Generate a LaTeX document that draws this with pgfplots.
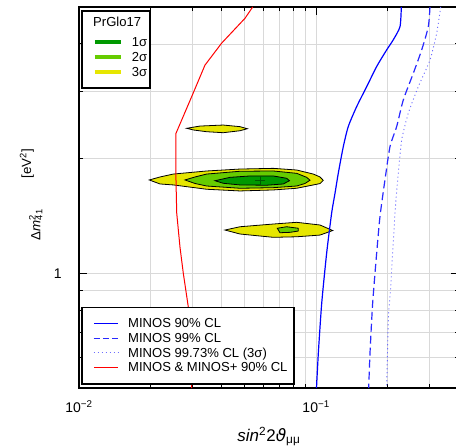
\documentclass[border=0pt]{standalone}
\usepackage{fontspec}
\setmainfont{Liberation Sans}
\newfontfamily\dvs{DejaVu Sans}
\usepackage{pgfplots}
\pgfplotsset{compat=1.18}
\definecolor{cone}{RGB}{0,153,0}
\definecolor{ctwo}{RGB}{102,204,0}
\definecolor{cthree}{RGB}{230,230,0}
\definecolor{gridc}{RGB}{217,217,217}
\definecolor{bdash}{RGB}{40,40,255}
\definecolor{bdot}{RGB}{110,110,255}
\begin{document}
\begin{tikzpicture}
\begin{axis}[
  at={(0,0)}, anchor=south west,
  scale only axis, width=285pt, height=285.75pt,
  xmode=log, ymode=log,
  xmin=0.01, xmax=0.4, ymin=0.5, ymax=5,
  font=\fontsize{10.5}{12.5}\selectfont,
  xtick={0.01,0.1}, xticklabels={10\textsuperscript{−2},10\textsuperscript{−1}},
  ytick={1}, yticklabels={1},
  minor xtick={0.02,0.03,0.04,0.05,0.06,0.07,0.08,0.09,0.2,0.3,0.4},
  minor ytick={0.6,0.7,0.8,0.9,2,3,4},
  grid=both,
  major grid style={line width=0.6pt,color=gridc},
  minor grid style={line width=0.6pt,color=gridc},
  tick style={black, line width=0.8pt},
  major tick length=6pt, minor tick length=3pt,
  axis line style={line width=0.9pt},
  xticklabel style={yshift=-6pt},
  yticklabel style={xshift=-9.5pt},
  xlabel={\textit{sin}\textsuperscript{2}2{\dvs\itshape ϑ}\textsubscript{μμ}},
  ylabel={Δ\textit{m}\rlap{\textsuperscript{2}}\textsubscript{41}\hspace{2.3em}\raisebox{7pt}{[eV\textsuperscript{2}]}},
  xlabel style={at={(axis description cs:0.5,-0.128)},anchor=center,font=\fontsize{12.7}{14}\selectfont},
  ylabel style={at={(axis description cs:-0.126,0.508)},anchor=center,font=\fontsize{10}{12}\selectfont},
]
% 3 sigma big
\addplot[forget plot, fill=cthree, draw=black, line width=0.6pt] coordinates {
(0.01979,1.758) (0.02195,1.790) (0.02498,1.822) (0.03454,1.856) (0.04773,1.878)
(0.06595,1.886) (0.08276,1.867) (0.09723,1.822) (0.1038,1.790) (0.1071,1.754)
(0.1038,1.720) (0.09723,1.706) (0.08276,1.672) (0.06595,1.655) (0.04773,1.645)
(0.03454,1.662) (0.02498,1.706) (0.02195,1.716)} -- cycle;
% 2 sigma big
\addplot[forget plot, fill=ctwo, draw=black, line width=0.6pt] coordinates {
(0.02798,1.758) (0.03083,1.790) (0.03454,1.822) (0.04773,1.853) (0.06595,1.856)
(0.08276,1.830) (0.0912,1.786) (0.09417,1.755) (0.0897,1.721) (0.08276,1.695)
(0.06595,1.678) (0.04773,1.672) (0.03454,1.695) (0.03083,1.721)} -- cycle;
% 1 sigma
\addplot[forget plot, fill=cone, draw=black, line width=0.6pt] coordinates {
(0.03744,1.750) (0.0433,1.786) (0.05258,1.801) (0.06595,1.801) (0.07509,1.776)
(0.07718,1.750) (0.07265,1.716) (0.06184,1.703) (0.04773,1.706) (0.04058,1.723)} -- cycle;
% upper small 3 sigma
\addplot[forget plot, fill=cthree, draw=black, line width=0.6pt] coordinates {
(0.02845,2.402) (0.03237,2.435) (0.04058,2.450) (0.04773,2.426) (0.05123,2.396)
(0.04773,2.367) (0.04058,2.339) (0.03454,2.353) (0.03033,2.378)} -- cycle;
% lower 3 sigma
\addplot[forget plot, fill=cthree, draw=black, line width=0.6pt] coordinates {
(0.04126,1.299) (0.04773,1.325) (0.06595,1.347) (0.08276,1.361) (0.10377,1.339)
(0.1174,1.295) (0.10377,1.260) (0.08276,1.247) (0.06595,1.243) (0.04773,1.268)} -- cycle;
% lower 2 sigma blob
\addplot[forget plot, fill=ctwo, draw=black, line width=0.6pt] coordinates {
(0.06855,1.313) (0.07509,1.325) (0.08405,1.313) (0.08405,1.291) (0.07755,1.281)
(0.07037,1.278)} -- cycle;
% best fit
\addplot[forget plot, only marks, mark=+, mark size=3.4pt, color=green!35!black, line width=0.6pt]
coordinates {(0.05796,1.750)};
% MINOS 90
\addplot[forget plot, draw=blue, line width=0.9pt, smooth, tension=0.4] coordinates {
(0.2285,5.0) (0.2256,4.44) (0.2113,4.10) (0.1983,3.86) (0.1799,3.49) (0.1633,3.09)
(0.1482,2.74) (0.1366,2.43) (0.1301,2.15) (0.1239,1.83) (0.1200,1.62) (0.1162,1.44)
(0.1107,1.13) (0.1055,0.834) (0.1021,0.617) (0.1003,0.5)};
% MINOS 99
\addplot[forget plot, draw=bdash, line width=0.9pt, dash pattern=on 6pt off 3pt, smooth, tension=0.4] coordinates {
(0.3018,5.0) (0.2969,4.44) (0.2785,3.86) (0.2567,3.35) (0.2329,2.85) (0.2185,2.43)
(0.2047,2.15) (0.1950,1.76) (0.1858,1.41) (0.1799,1.13) (0.1730,0.834) (0.1686,0.617)
(0.1665,0.5)};
% MINOS 99.73
\addplot[forget plot, draw=bdot, line width=0.7pt, dash pattern=on 0.8pt off 2.2pt, smooth, tension=0.4] coordinates {
(0.3349,5.0) (0.3221,4.27) (0.3018,3.63) (0.2695,3.09) (0.2445,2.63) (0.2294,2.24)
(0.2219,1.83) (0.2149,1.44) (0.2061,0.922) (0.2014,0.754) (0.1983,0.5)};
% MINOS & MINOS+
\addplot[forget plot, draw=red, line width=0.75pt] coordinates {
(0.05398,5.0) (0.0501,4.67) (0.03996,4.02) (0.03398,3.52) (0.02987,2.91) (0.02564,2.33)
(0.02564,1.76) (0.02582,1.44) (0.02666,1.17) (0.02753,1.0) (0.02889,0.817) (0.02987,0.5)};
\end{axis}
% MINOS legend
\begin{axis}[
  at={(0,0)}, anchor=south west,
  scale only axis, width=285pt, height=285.75pt,
  xmode=log, ymode=log,
  xmin=0.01, xmax=0.4, ymin=0.5, ymax=5,
  hide axis,
  legend cell align=left,
  legend image code/.code={\draw[#1] (0pt,0pt) -- (18.5pt,0pt);},
  legend style={at={(axis description cs:0.0079,0.0105)}, anchor=south west,
    draw=none, fill=none,
    font=\fontsize{9.8}{11.8}\selectfont,
    inner xsep=8pt, inner ysep=7.7pt, row sep=2pt, column sep=7pt,
    nodes={inner sep=0pt, text height=7.8pt, text depth=1.2pt}},
]
\draw[black, line width=0.8pt, fill=white] (axis description cs:0.0079,0.0105) rectangle (axis description cs:0.5658,0.2118);
\addlegendimage{legend image code/.code={\fill[blue, draw=none] (0pt,-0.5pt) rectangle (18.5pt,0.5pt);}}
\addlegendentry{MINOS 90\% CL}
\addlegendimage{draw=bdash, line width=0.9pt, dash pattern=on 4.5pt off 2.5pt}
\addlegendentry{MINOS 99\% CL}
\addlegendimage{draw=bdot, line width=0.7pt, dash pattern=on 0.8pt off 2.2pt}
\addlegendentry{MINOS 99.73\% CL (3σ)}
\addlegendimage{legend image code/.code={\fill[red, draw=none] (0pt,-0.42pt) rectangle (18.5pt,0.42pt);}}
\addlegendentry{MINOS \& MINOS+ 90\% CL}
\end{axis}
% PrGlo17 legend
\begin{axis}[
  at={(0,0)}, anchor=south west,
  scale only axis, width=285pt, height=285.75pt,
  xmode=log, ymode=log,
  xmin=0.01, xmax=0.4, ymin=0.5, ymax=5,
  hide axis,
  legend cell align=left,
  legend image code/.code={\draw[#1] (0pt,0pt) -- (19.2pt,0pt);},
  legend style={at={(axis description cs:0.0079,0.9895)}, anchor=north west,
    draw=none, fill=none,
    font=\fontsize{9.8}{11.8}\selectfont,
    inner xsep=8pt, inner ysep=7.4pt, row sep=2pt, column sep=7pt,
    nodes={inner sep=0pt, text height=7.95pt, text depth=1.3pt}},
]
\draw[black, line width=0.8pt, fill=white] (axis description cs:0.0079,0.7874) rectangle (axis description cs:0.1868,0.9895);
\addlegendimage{empty legend}
\addlegendentry[text height=4.15pt, text depth=5.075pt]{\hspace*{-29pt}PrGlo17}
\addlegendimage{draw=cone, line width=3pt}
\addlegendentry{1σ\hspace*{-4pt}}
\addlegendimage{draw=ctwo, line width=3pt}
\addlegendentry{2σ\hspace*{-4pt}}
\addlegendimage{draw=cthree, line width=3pt}
\addlegendentry{3σ\hspace*{-4pt}}
\end{axis}
\pgfresetboundingbox
\path[use as bounding box] (-59.25pt,-43.5pt) rectangle (282.75pt,291pt);
\end{tikzpicture}
\end{document}
